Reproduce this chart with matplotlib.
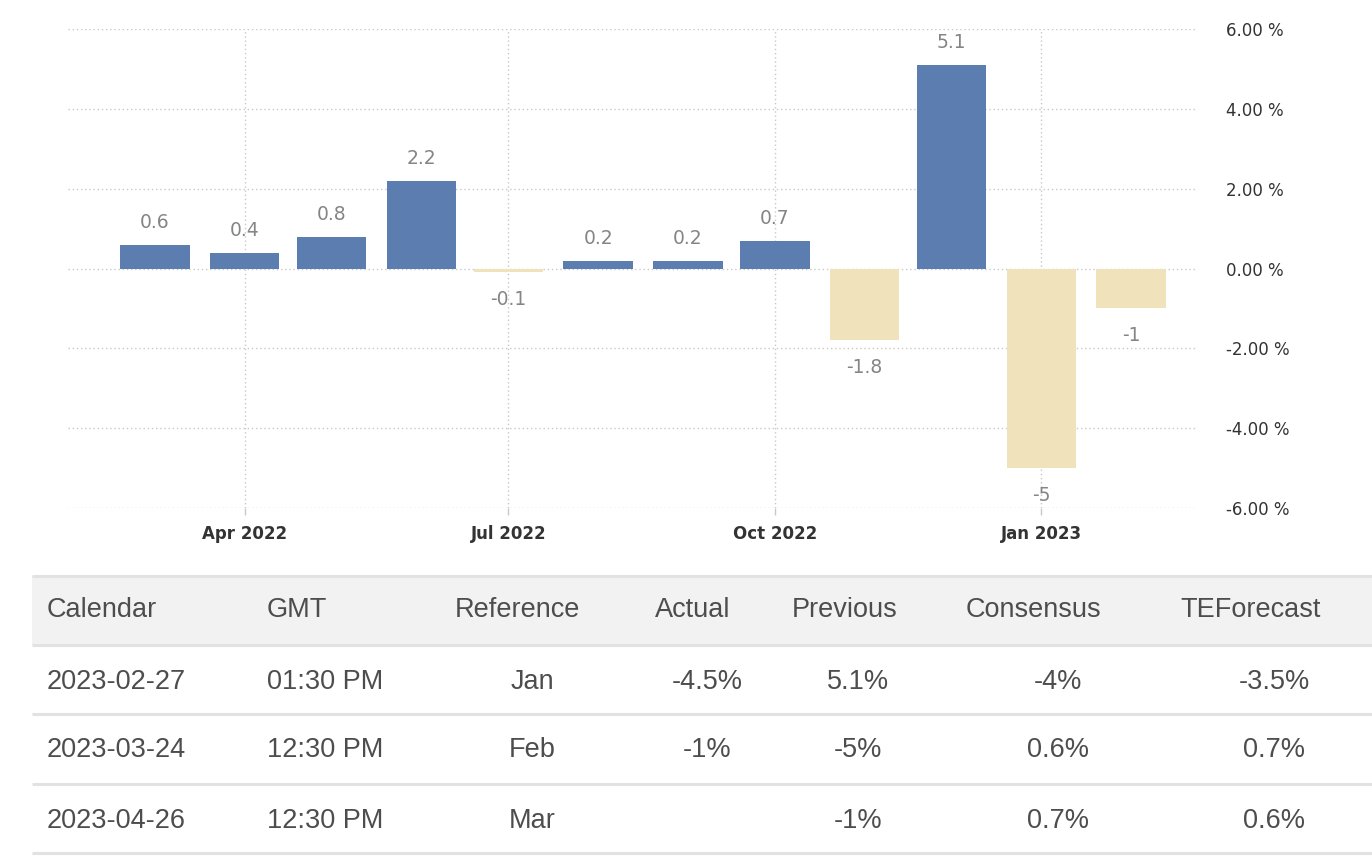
import datetime as dt

import matplotlib
matplotlib.use("Agg")
import matplotlib.dates as mdates
import matplotlib.pyplot as plt
from matplotlib.patches import Rectangle

# monthly change, Mar 2022 .. Feb 2023
months = ["2022-03", "2022-04", "2022-05", "2022-06", "2022-07", "2022-08",
          "2022-09", "2022-10", "2022-11", "2022-12", "2023-01", "2023-02"]
values = [0.6, 0.4, 0.8, 2.2, -0.1, 0.2, 0.2, 0.7, -1.8, 5.1, -5, -1]
value_labels = ["0.6", "0.4", "0.8", "2.2", "-0.1", "0.2", "0.2", "0.7",
                "-1.8", "5.1", "-5", "-1"]
tick_months = ["2022-04", "2022-07", "2022-10", "2023-01"]
tick_labels = ["Apr 2022", "Jul 2022", "Oct 2022", "Jan 2023"]
y_ticks = [-6, -4, -2, 0, 2, 4, 6]

table_header = ["Calendar", "GMT", "Reference", "Actual", "Previous",
                "Consensus", "TEForecast"]
table_rows = [
    ["2023-02-27", "01:30 PM", "Jan", "-4.5%", "5.1%", "-4%", "-3.5%"],
    ["2023-03-24", "12:30 PM", "Feb", "-1%", "-5%", "0.6%", "0.7%"],
    ["2023-04-26", "12:30 PM", "Mar", "", "-1%", "0.7%", "0.6%"],
]

BLUE = "#5b7db0"
BEIGE = "#f0e2bb"
GRID = "#c8c8c8"


def to_date(s):
    return dt.datetime.strptime(s + "-01", "%Y-%m-%d")


W, H = 1372, 860
fig = plt.figure(figsize=(W / 100, H / 100), dpi=100)

# table drawn on a pixel-coordinate overlay
tab = fig.add_axes([0, 0, 1, 1], zorder=0)
tab.set_xlim(0, W)
tab.set_ylim(H, 0)
tab.axis("off")

tab.add_patch(Rectangle((32, 576), W - 32, 69, color="#f2f2f2", lw=0))
for yl in [576, 645, 714, 784, 853]:
    tab.plot([32, W], [yl, yl], color="#e2e2e2", lw=2.2, solid_capstyle="butt")

header_x = [47, 267, 455, 655, 792, 966, 1180]
value_x = [47, 267, 532, 707, 858, 1058, 1274]
row_y = [682, 750, 821]
tfont = dict(family="Liberation Sans", fontsize=19.5, color="#4d4d4d")
for txt, x in zip(table_header, header_x):
    tab.text(x, 610, txt, ha="left", va="center", **tfont)
for row, y in zip(table_rows, row_y):
    for i, txt in enumerate(row):
        ha = "left" if i < 2 else "center"
        tab.text(value_x[i], y, txt, ha=ha, va="center", **tfont)

# bar chart
ax = fig.add_axes([68 / W, 1 - 508 / H, (1195 - 68) / W, (508 - 29) / H], zorder=1)
ax.patch.set_alpha(0)

dates = [to_date(m) for m in months]
colors = [BLUE if v > 0 else BEIGE for v in values]
ax.bar(dates, values, width=24, color=colors, zorder=3)

for d, v, lab in zip(dates, values, value_labels):
    off = 16 if v > 0 else -19.5
    ax.annotate(lab, (mdates.date2num(d), v), xytext=(0, off),
                textcoords="offset points", ha="center", va="center",
                fontsize=13.5, color="#858585", zorder=4)

ax.set_ylim(-6, 6)
ax.set_xlim(dt.datetime(2022, 1, 30), dt.datetime(2023, 2, 23))
ax.set_yticks(y_ticks)
ax.set_yticklabels([f"{t:.2f} %" for t in y_ticks])
ax.yaxis.tick_right()
ax.tick_params(axis="y", length=0, pad=22, labelsize=12, labelcolor="#333333")

ax.set_xticks([to_date(m) for m in tick_months])
ax.set_xticklabels(tick_labels)
ax.tick_params(axis="x", length=5, width=1, color=GRID, pad=7,
               labelsize=12, labelcolor="#333333")
for lab in ax.get_xticklabels():
    lab.set_fontweight("bold")

ax.grid(True, axis="both", color=GRID, linestyle=(0, (1, 2)), linewidth=1,
        zorder=0)
for sp in ax.spines.values():
    sp.set_visible(False)

fig.savefig("out.png", dpi=100)
